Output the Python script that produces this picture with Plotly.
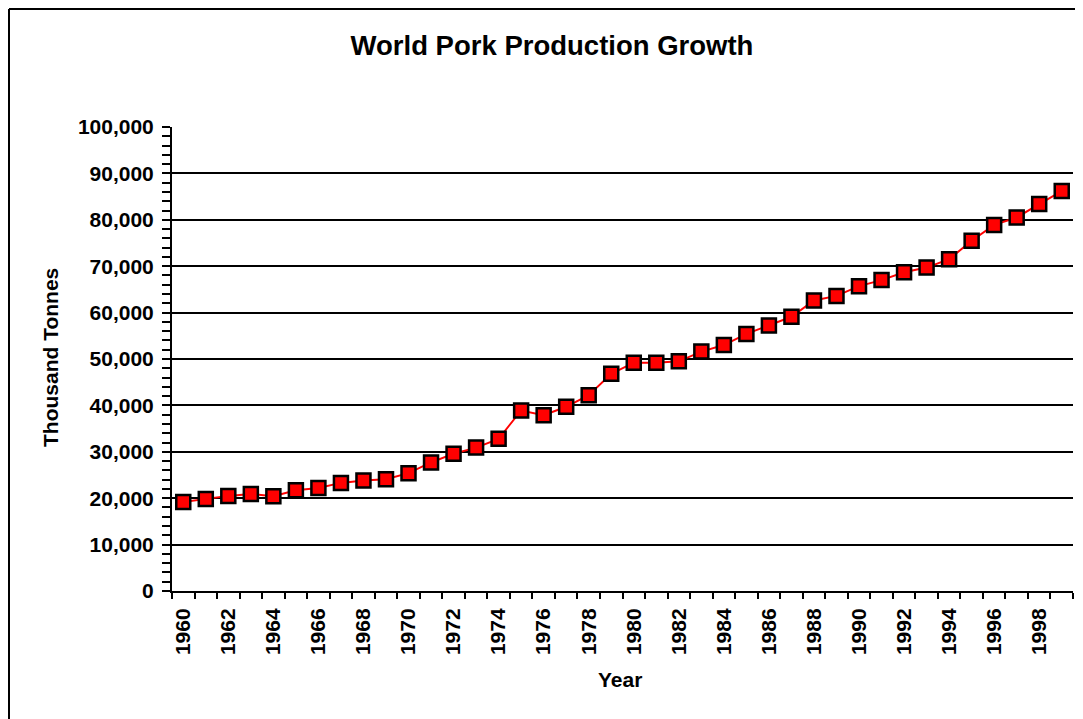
import plotly.graph_objects as go

years = list(range(1960, 2000))
production = [19.2, 19.85, 20.5, 20.9, 20.4, 21.7, 22.2, 23.3, 23.8, 24.1,
              25.4, 27.7, 29.6, 30.9, 32.8, 38.9, 37.9, 39.7, 42.2, 46.8,
              49.2, 49.2, 49.5, 51.6, 53.0, 55.4, 57.2, 59.1, 62.6, 63.6,
              65.7, 67.0, 68.7, 69.7, 71.5, 75.5, 78.9, 80.5, 83.4, 86.2]
production = [v * 1000 for v in production]
tick_years = list(range(1960, 2000, 2))
tick_labels = [str(y) for y in tick_years]

OFF = 8  # page body margin
W, H = 1083, 719
# plot area in page pixels: x 172..1073, y 127..591
L = 172 - OFF
T = 127 - OFF
R = W - (1073 - OFF)
B = H - (591 - OFF)
pw, ph = W - L - R, H - T - B

def px_x(p):
    return (p - OFF - L) / pw

def px_y(p):
    return (H - B - (p - OFF)) / ph

FONT = "Arial, Liberation Sans, sans-serif"

fig = go.Figure()
fig.add_trace(go.Scatter(
    x=years, y=production, mode="lines+markers",
    line=dict(color="#ff0000", width=2),
    marker=dict(symbol="square", size=14, color="#ff0000",
                line=dict(color="black", width=2.5)),
    showlegend=False,
))

fig.update_layout(
    width=W, height=H,
    margin=dict(l=L, r=R, t=T, b=B, pad=0),
    paper_bgcolor="white", plot_bgcolor="white",
    font=dict(family=FONT, color="black", size=21, weight="bold"),
    title=dict(text="World Pork Production Growth", x=(552 - OFF) / W, xref="container",
               y=1 - (45 - OFF) / H, yref="container", xanchor="center", yanchor="middle",
               font=dict(size=27.5, family=FONT, weight="bold", color="black")),
    xaxis=dict(range=[1959.5, 1999.5], tickmode="array", tickvals=tick_years,
               ticktext=tick_labels, tickangle=-90, ticks="", showgrid=False,
               showline=True, linecolor="black", linewidth=2, zeroline=False,
               ticklabelstandoff=7,
               minor=dict(tick0=1959.5, dtick=1, ticks="outside", ticklen=6,
                          tickwidth=2, tickcolor="black", showgrid=False),
               tickfont=dict(size=21, family=FONT, weight="bold")),
    yaxis=dict(range=[0, 100000], dtick=10000, tickformat=",", ticks="outside",
               ticklen=8, tickwidth=2, tickcolor="black", showgrid=True,
               gridcolor="black", gridwidth=2, showline=True, linecolor="black",
               linewidth=2, zeroline=False, ticklabelstandoff=4,
               minor=dict(dtick=2000, ticks="outside", ticklen=8, tickwidth=2,
                          tickcolor="black", showgrid=False),
               tickfont=dict(size=21, family=FONT, weight="bold")),
    annotations=[
        dict(text="Thousand Tonnes", x=px_x(50), y=px_y(357), xref="paper",
             yref="paper", textangle=-90, showarrow=False, xanchor="center",
             yanchor="middle", font=dict(size=21, family=FONT, weight="bold")),
        dict(text="Year", x=px_x(620), y=px_y(679), xref="paper", yref="paper",
             showarrow=False, xanchor="center", yanchor="middle",
             font=dict(size=21, family=FONT, weight="bold")),
    ],
    shapes=[
        dict(type="line", xref="paper", yref="paper", x0=px_x(9), x1=px_x(9),
             y0=px_y(9), y1=px_y(760), line=dict(color="black", width=2)),
        dict(type="line", xref="paper", yref="paper", x0=px_x(9), x1=px_x(1120),
             y0=px_y(9), y1=px_y(9), line=dict(color="black", width=2)),
    ],
)

fig.write_html("out.html",
               post_script="document.documentElement.style.overflow='hidden';"
                           "document.body.style.overflow='hidden';")
